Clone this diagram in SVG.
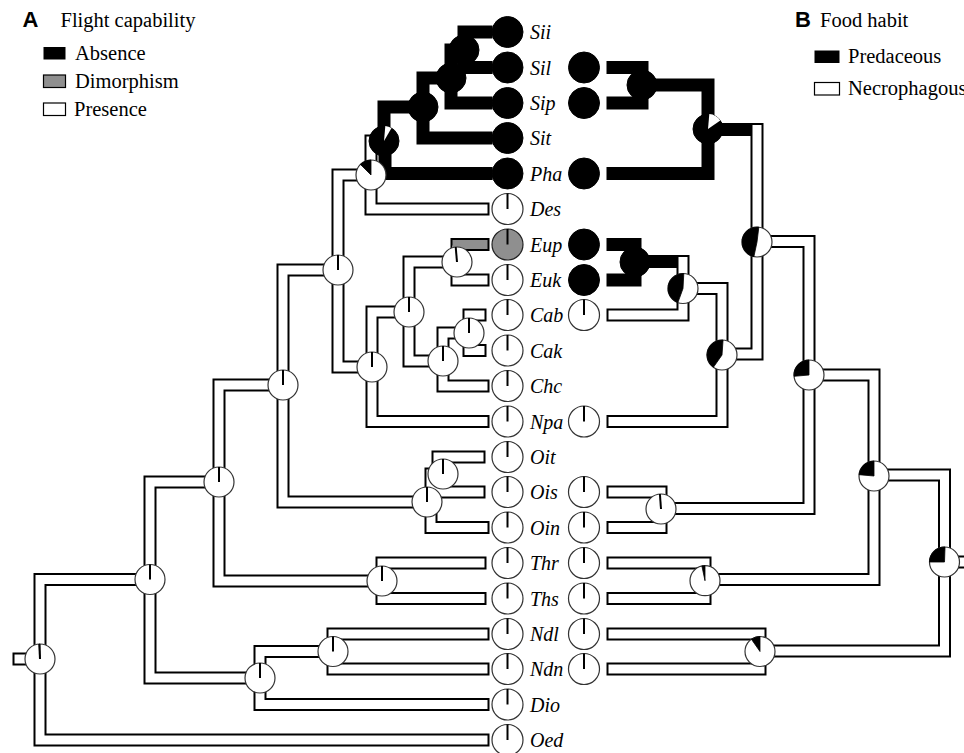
<svg xmlns="http://www.w3.org/2000/svg" width="964" height="753" viewBox="0 0 964 753">
<style>
.e{fill:none;stroke:#000;stroke-width:13;stroke-linecap:square;stroke-linejoin:miter}
.f{fill:none;stroke:#fff;stroke-width:9;stroke-linecap:square;stroke-linejoin:miter}
.k{fill:none;stroke:#000;stroke-width:13;stroke-linecap:square;stroke-linejoin:miter}
.g{fill:none;stroke:#8f8f8f;stroke-width:9;stroke-linecap:butt}
.nw{fill:#fff;stroke:#333;stroke-width:1.2}
.nb{fill:#000;stroke:#000;stroke-width:1}
.ng{fill:#8f8f8f;stroke:#222;stroke-width:1.2}
.tl{stroke:#000;stroke-width:2}
.wb{fill:#000;stroke:#000;stroke-width:0.8;stroke-linejoin:round}
.ww{fill:#fff;stroke:none}
.lab{font-family:"Liberation Serif","Times New Roman",serif;font-style:italic;font-size:20px;fill:#000}
.leg{font-family:"Liberation Serif","Times New Roman",serif;font-size:20.5px;fill:#000}
.hd{font-family:"Liberation Sans",Arial,sans-serif;font-weight:bold;font-size:22px;fill:#000}
</style>

<g id="legendA">
<text class="hd" x="22.5" y="27">A</text>
<text class="leg" x="60.5" y="27">Flight capability</text>
<rect x="43.5" y="47" width="22" height="12.5" fill="#000"/>
<text class="leg" x="75" y="59.5">Absence</text>
<rect x="43.5" y="75" width="22" height="12.5" fill="#8f8f8f" stroke="#000" stroke-width="1.2"/>
<text class="leg" x="75" y="87.5">Dimorphism</text>
<rect x="43.5" y="103" width="22" height="12.5" fill="#fff" stroke="#000" stroke-width="1.2"/>
<text class="leg" x="74" y="116">Presence</text>
</g>
<g id="legendB">
<text class="hd" x="795" y="27">B</text>
<text class="leg" x="820" y="27">Food habit</text>
<rect x="814.5" y="50.5" width="25" height="12.5" fill="#000"/>
<text class="leg" x="848" y="63">Predaceous</text>
<rect x="814.5" y="82.5" width="25" height="12.5" fill="#fff" stroke="#000" stroke-width="1.2"/>
<text class="leg" x="848" y="95">Necrophagous</text>
</g>

<g id="connectors">
<g class="e">
<path d="M40,659 V579.5 H150"/><path d="M40,659 V740 H483"/><path d="M40,659 H19"/>
<path d="M150,579.5 V482 H219"/><path d="M150,579.5 V678 H260"/>
<path d="M219,482 V385 H283"/><path d="M219,482 V581 H382"/>
<path d="M283,385 V270 H338"/><path d="M283,385 V502 H429"/>
<path d="M338,270 V175 H371"/><path d="M338,270 V367 H372"/>
<path d="M371,175 V209 H483"/><path d="M371,175 V141 H384"/>
<path d="M372,367 V312 H409"/><path d="M372,367 V421.5 H483"/>
<path d="M409,312 V262 H457"/><path d="M409,312 V361 H443"/>
<path d="M457,262 V280 H483"/><path d="M457,262 V244.5 H483"/>
<path d="M443,361 V333 H469"/><path d="M443,361 V386 H483"/>
<path d="M469,333 V315 H480"/><path d="M469,333 V350.5 H480"/>
<path d="M431,502 V474 H440"/><path d="M431,502 V527.5 H483"/>
<path d="M438,474 V457 H479"/><path d="M438,474 V492 H479"/>
<path d="M382,581 V563 H480"/><path d="M382,581 V598.5 H480"/>
<path d="M260,678 V651.5 H333"/><path d="M260,678 V704.5 H483"/>
<path d="M333,651.5 V634 H483"/><path d="M333,651.5 V669 H483"/>
<path d="M944.5,562 H975"/>
<path d="M944.5,562 V475 H874"/><path d="M944.5,562 V651 H760"/>
<path d="M874,475 V375 H809"/><path d="M874,475 V579.5 H705"/>
<path d="M809,375 V241.5 H757"/><path d="M809,375 V508.5 H661"/>
<path d="M757,242 V354 H722"/><path d="M757,242 V129.5 H708"/>
<path d="M722,355 V288.5 H683"/><path d="M722,355 V421.5 H613"/>
<path d="M683,288.5 V261.5 H635"/><path d="M683,288.5 V315 H613"/>
<path d="M661,509 V492 H613"/><path d="M661,509 V527.5 H613"/>
<path d="M705,580.7 V563 H613"/><path d="M705,580.7 V598.5 H613"/>
<path d="M760,651.5 V634 H613"/><path d="M760,651.5 V669 H613"/>
</g>
<g class="f">
<path d="M40,659 V579.5 H150"/><path d="M40,659 V740 H483"/><path d="M40,659 H19"/>
<path d="M150,579.5 V482 H219"/><path d="M150,579.5 V678 H260"/>
<path d="M219,482 V385 H283"/><path d="M219,482 V581 H382"/>
<path d="M283,385 V270 H338"/><path d="M283,385 V502 H429"/>
<path d="M338,270 V175 H371"/><path d="M338,270 V367 H372"/>
<path d="M371,175 V209 H483"/><path d="M371,175 V141"/>
<path d="M372,367 V312 H409"/><path d="M372,367 V421.5 H483"/>
<path d="M409,312 V262 H457"/><path d="M409,312 V361 H443"/>
<path d="M457,262 V280 H483"/><path d="M457,262 V250"/>
<path d="M443,361 V333 H469"/><path d="M443,361 V386 H483"/>
<path d="M469,333 V315 H480"/><path d="M469,333 V350.5 H480"/>
<path d="M431,502 V474 H440"/><path d="M431,502 V527.5 H483"/>
<path d="M438,474 V457 H479"/><path d="M438,474 V492 H479"/>
<path d="M382,581 V563 H480"/><path d="M382,581 V598.5 H480"/>
<path d="M260,678 V651.5 H333"/><path d="M260,678 V704.5 H483"/>
<path d="M333,651.5 V634 H483"/><path d="M333,651.5 V669 H483"/>
<path d="M944.5,562 H975"/>
<path d="M944.5,562 V475 H874"/><path d="M944.5,562 V651 H760"/>
<path d="M874,475 V375 H809"/><path d="M874,475 V579.5 H705"/>
<path d="M809,375 V241.5 H757"/><path d="M809,375 V508.5 H661"/>
<path d="M757,242 V354 H722"/><path d="M757,242 V129.5"/>
<path d="M722,355 V288.5 H683"/><path d="M722,355 V421.5 H613"/>
<path d="M683,288.5 V261.5"/><path d="M683,288.5 V315 H613"/>
<path d="M661,509 V492 H613"/><path d="M661,509 V527.5 H613"/>
<path d="M705,580.7 V563 H613"/><path d="M705,580.7 V598.5 H613"/>
<path d="M760,651.5 V634 H613"/><path d="M760,651.5 V669 H613"/>
</g>
<path class="g" d="M452.5,244.5 H487.5"/>
<g class="k">
<path d="M384,141 V107 H423"/><path d="M385,141 V173.5 H486"/>
<path d="M423,107 V78 H451"/><path d="M423,107 V138 H486"/>
<path d="M451,78 V50 H464"/><path d="M451,78 V103 H486"/>
<path d="M464,50 V32 H486"/><path d="M464,50 V67.5 H486"/>
<path d="M708,129 V85 H642"/><path d="M708,129 V173.5 H613"/>
<path d="M642,85 V67.5 H613"/><path d="M642,85 V103 H613"/>
<path d="M635,262 V244.5 H613"/><path d="M635,262 V280 H613"/>
</g>
</g>

<g id="nodesA">
<g id="nR"><circle class="nw" cx="40" cy="659" r="15"/><path class="wb" d="M40,659 L39.2,644.02 A15,15 0 0 1 40,644 Z"/><line class="tl" x1="40" y1="659" x2="39.3" y2="644"/></g>
<g id="nA9"><circle class="nw" cx="150" cy="579.5" r="15"/><line class="tl" x1="150" y1="579.5" x2="150" y2="564.5"/></g>
<g id="nA8"><circle class="nw" cx="219" cy="482" r="15"/><line class="tl" x1="219" y1="482" x2="219" y2="467"/></g>
<g id="nA7"><circle class="nw" cx="283" cy="385" r="15"/><line class="tl" x1="283" y1="385" x2="283" y2="370"/></g>
<g id="nA6"><circle class="nw" cx="338" cy="270" r="15"/><line class="tl" x1="338" y1="270" x2="338" y2="255"/></g>
<g id="nA5"><circle class="nw" cx="371" cy="175" r="15"/><path class="wb" d="M371,175 L360.39,164.39 A15,15 0 0 1 371,160 Z"/></g>
<g id="nA4"><circle class="nb" cx="384" cy="141" r="15"/><path class="ww" d="M384,141 L385.31,126.06 A15,15 0 0 1 391.5,128.01 Z"/></g>
<g id="nA3"><circle class="nb" cx="423" cy="107" r="15"/></g>
<g id="nA2"><circle class="nb" cx="451" cy="78" r="15"/></g>
<g id="nA1"><circle class="nb" cx="464" cy="50" r="15"/></g>
<g id="nX"><circle class="nw" cx="372" cy="367" r="15"/><line class="tl" x1="372" y1="367" x2="372" y2="352"/></g>
<g id="nY"><circle class="nw" cx="409" cy="312" r="15"/><line class="tl" x1="409" y1="312" x2="409" y2="297"/></g>
<g id="nEE"><circle class="nw" cx="457" cy="262" r="15"/><line class="tl" x1="457" y1="262" x2="455.7" y2="247"/></g>
<g id="nCCC"><circle class="nw" cx="443" cy="361" r="15"/><line class="tl" x1="443" y1="361" x2="443" y2="346"/></g>
<g id="nCC"><circle class="nw" cx="469" cy="333" r="15"/><line class="tl" x1="469" y1="333" x2="469" y2="318"/></g>
<g id="nO3"><circle class="nw" cx="427" cy="502" r="15"/><line class="tl" x1="427" y1="502" x2="427" y2="487"/></g>
<g id="nO2"><circle class="nw" cx="443" cy="474" r="15"/><line class="tl" x1="443" y1="474" x2="443" y2="459"/></g>
<g id="nTT"><circle class="nw" cx="382" cy="581" r="15"/><line class="tl" x1="382" y1="581" x2="382" y2="566"/></g>
<g id="nN3"><circle class="nw" cx="260" cy="678" r="15"/><line class="tl" x1="260" y1="678" x2="260" y2="663"/></g>
<g id="nN2"><circle class="nw" cx="333" cy="651.5" r="15"/><line class="tl" x1="333" y1="651.5" x2="333" y2="636.5"/></g>
</g>

<g id="nodesB">
<g id="nB14"><circle class="nw" cx="944.5" cy="562" r="15"/><path class="wb" d="M944.5,562 L929.5,562 A15,15 0 0 1 945.02,547.01 Z"/></g>
<g id="nB13"><circle class="nw" cx="874" cy="476" r="15"/><path class="wb" d="M874,476 L859.06,474.69 A15,15 0 0 1 874,461 Z"/></g>
<g id="nB12"><circle class="nw" cx="809" cy="375" r="15"/><path class="wb" d="M809,375 L794.06,376.31 A15,15 0 0 1 809,360 Z"/></g>
<g id="nB4"><circle class="nw" cx="757" cy="242" r="15"/><path class="wb" d="M757,242 L753.88,256.67 A15,15 0 0 1 758.83,227.11 Z"/></g>
<g id="nB2"><circle class="nb" cx="708" cy="129" r="15"/><path class="ww" d="M708,129 L709.31,114.06 A15,15 0 0 1 720.29,120.4 Z"/></g>
<g id="nB1"><circle class="nb" cx="642" cy="85" r="15"/></g>
<g id="nB5"><circle class="nw" cx="722" cy="355" r="15"/><path class="wb" d="M722,355 L713.4,367.29 A15,15 0 0 1 723.05,340.04 Z"/></g>
<g id="nB6"><circle class="nw" cx="683" cy="288.5" r="15"/><path class="wb" d="M683,288.5 L677.87,302.6 A15,15 0 0 1 683.79,273.52 Z"/></g>
<g id="nB7"><circle class="nb" cx="635" cy="262" r="15"/></g>
<g id="nB8"><circle class="nw" cx="661" cy="509" r="15"/><line class="tl" x1="661" y1="509" x2="659.9" y2="494"/></g>
<g id="nB9"><circle class="nw" cx="705" cy="580.7" r="15"/><path class="wb" d="M705,580.7 L701.88,566.03 A15,15 0 0 1 705,565.7 Z"/></g>
<g id="nB10"><circle class="nw" cx="760" cy="651.5" r="15"/><path class="wb" d="M760,651.5 L751.4,639.21 A15,15 0 0 1 760,636.5 Z"/></g>
</g>

<g id="tipsA">
<g id="tA-Sii"><circle class="nb" cx="507.5" cy="32" r="15.5"/><text class="lab" x="530" y="39">Sii</text></g>
<g id="tA-Sil"><circle class="nb" cx="507.5" cy="67.5" r="15.5"/><text class="lab" x="530" y="74.5">Sil</text></g>
<g id="tA-Sip"><circle class="nb" cx="507.5" cy="103" r="15.5"/><text class="lab" x="530" y="110">Sip</text></g>
<g id="tA-Sit"><circle class="nb" cx="507.5" cy="138" r="15.5"/><text class="lab" x="530" y="145">Sit</text></g>
<g id="tA-Pha"><circle class="nb" cx="507.5" cy="173.5" r="15.5"/><text class="lab" x="530" y="180.5">Pha</text></g>
<g id="tA-Des"><circle class="nw" cx="507.5" cy="209" r="15.5"/><line class="tl" x1="507.5" y1="209" x2="507.5" y2="193.5"/><text class="lab" x="530" y="216">Des</text></g>
<g id="tA-Eup"><circle class="ng" cx="507.5" cy="244.5" r="15.5"/><line class="tl" x1="507.5" y1="244.5" x2="507.5" y2="229"/><text class="lab" x="530" y="251.5">Eup</text></g>
<g id="tA-Euk"><circle class="nw" cx="507.5" cy="280" r="15.5"/><line class="tl" x1="507.5" y1="280" x2="507.5" y2="264.5"/><text class="lab" x="530" y="287">Euk</text></g>
<g id="tA-Cab"><circle class="nw" cx="507.5" cy="315" r="15.5"/><line class="tl" x1="507.5" y1="315" x2="507.5" y2="299.5"/><text class="lab" x="530" y="322">Cab</text></g>
<g id="tA-Cak"><circle class="nw" cx="507.5" cy="350.5" r="15.5"/><line class="tl" x1="507.5" y1="350.5" x2="507.5" y2="335"/><text class="lab" x="530" y="357.5">Cak</text></g>
<g id="tA-Chc"><circle class="nw" cx="507.5" cy="386" r="15.5"/><line class="tl" x1="507.5" y1="386" x2="507.5" y2="370.5"/><text class="lab" x="530" y="393">Chc</text></g>
<g id="tA-Npa"><circle class="nw" cx="507.5" cy="421.5" r="15.5"/><line class="tl" x1="507.5" y1="421.5" x2="507.5" y2="406"/><text class="lab" x="530" y="428.5">Npa</text></g>
<g id="tA-Oit"><circle class="nw" cx="507.5" cy="457" r="15.5"/><line class="tl" x1="507.5" y1="457" x2="507.5" y2="441.5"/><text class="lab" x="530" y="464">Oit</text></g>
<g id="tA-Ois"><circle class="nw" cx="507.5" cy="492" r="15.5"/><line class="tl" x1="507.5" y1="492" x2="507.5" y2="476.5"/><text class="lab" x="530" y="499">Ois</text></g>
<g id="tA-Oin"><circle class="nw" cx="507.5" cy="527.5" r="15.5"/><line class="tl" x1="507.5" y1="527.5" x2="507.5" y2="512"/><text class="lab" x="530" y="534.5">Oin</text></g>
<g id="tA-Thr"><circle class="nw" cx="507.5" cy="563" r="15.5"/><line class="tl" x1="507.5" y1="563" x2="507.5" y2="547.5"/><text class="lab" x="530" y="570">Thr</text></g>
<g id="tA-Ths"><circle class="nw" cx="507.5" cy="598.5" r="15.5"/><line class="tl" x1="507.5" y1="598.5" x2="507.5" y2="583"/><text class="lab" x="530" y="605.5">Ths</text></g>
<g id="tA-Ndl"><circle class="nw" cx="507.5" cy="634" r="15.5"/><line class="tl" x1="507.5" y1="634" x2="507.5" y2="618.5"/><text class="lab" x="530" y="641">Ndl</text></g>
<g id="tA-Ndn"><circle class="nw" cx="507.5" cy="669" r="15.5"/><line class="tl" x1="507.5" y1="669" x2="507.5" y2="653.5"/><text class="lab" x="530" y="676">Ndn</text></g>
<g id="tA-Dio"><circle class="nw" cx="507.5" cy="704.5" r="15.5"/><line class="tl" x1="507.5" y1="704.5" x2="507.5" y2="689"/><text class="lab" x="530" y="711.5">Dio</text></g>
<g id="tA-Oed"><circle class="nw" cx="507.5" cy="740" r="15.5"/><line class="tl" x1="507.5" y1="740" x2="507.5" y2="724.5"/><text class="lab" x="530" y="747">Oed</text></g>
</g>

<g id="tipsB">
<g id="tB-Sil"><circle class="nb" cx="584" cy="67.5" r="15.5"/></g>
<g id="tB-Sip"><circle class="nb" cx="584" cy="103" r="15.5"/></g>
<g id="tB-Pha"><circle class="nb" cx="584" cy="173.5" r="15.5"/></g>
<g id="tB-Eup"><circle class="nb" cx="584" cy="244.5" r="15.5"/></g>
<g id="tB-Euk"><circle class="nb" cx="584" cy="280" r="15.5"/></g>
<g id="tB-Cab"><circle class="nw" cx="584" cy="315" r="15.5"/><line class="tl" x1="584" y1="315" x2="584" y2="299.5"/></g>
<g id="tB-Npa"><circle class="nw" cx="584" cy="421.5" r="15.5"/><line class="tl" x1="584" y1="421.5" x2="584" y2="406"/></g>
<g id="tB-Ois"><circle class="nw" cx="584" cy="492" r="15.5"/><line class="tl" x1="584" y1="492" x2="584" y2="476.5"/></g>
<g id="tB-Oin"><circle class="nw" cx="584" cy="527.5" r="15.5"/><line class="tl" x1="584" y1="527.5" x2="584" y2="512"/></g>
<g id="tB-Thr"><circle class="nw" cx="584" cy="563" r="15.5"/><line class="tl" x1="584" y1="563" x2="584" y2="547.5"/></g>
<g id="tB-Ths"><circle class="nw" cx="584" cy="598.5" r="15.5"/><line class="tl" x1="584" y1="598.5" x2="584" y2="583"/></g>
<g id="tB-Ndl"><circle class="nw" cx="584" cy="634" r="15.5"/><line class="tl" x1="584" y1="634" x2="584" y2="618.5"/></g>
<g id="tB-Ndn"><circle class="nw" cx="584" cy="669" r="15.5"/><line class="tl" x1="584" y1="669" x2="584" y2="653.5"/></g>
</g>
</svg>
